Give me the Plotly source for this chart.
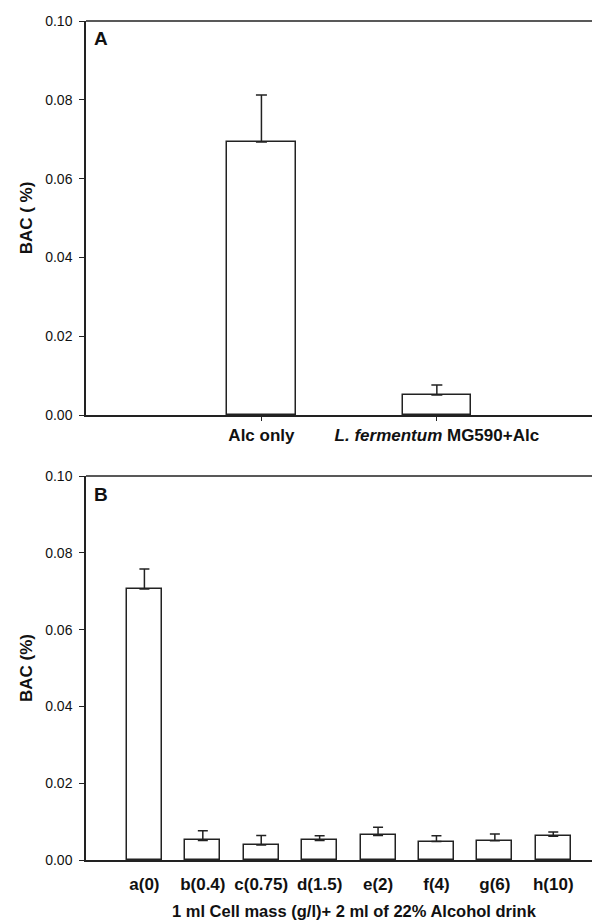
import plotly.graph_objects as go

# ---------------- data ----------------
a_categories = ["Alc only", "<i>L. fermentum</i> MG590+Alc"]
a_bac = [0.0693, 0.0051]
a_err = [0.0119, 0.0025]

b_categories = ["a(0)", "b(0.4)", "c(0.75)", "d(1.5)", "e(2)", "f(4)", "g(6)", "h(10)"]
b_bac = [0.0706, 0.0051, 0.0039, 0.0051, 0.0064, 0.0048, 0.0050, 0.0062]
b_err = [0.0052, 0.0025, 0.0025, 0.0012, 0.0021, 0.0015, 0.0018, 0.0011]

y_ticks = [0.00, 0.02, 0.04, 0.06, 0.08, 0.10]

a_pos = list(range(1, len(a_categories) + 1))
b_pos = list(range(1, len(b_categories) + 1))

FONT = "Liberation Sans, Arial, sans-serif"
OFF = 8                      # page body margin
W, H = 600 - OFF, 922 - OFF  # figure fits the window exactly
LINE = "#222222"

def px(p):  # page pixel x -> paper
    return (p - OFF) / W

def py(p):  # page pixel y -> paper
    return 1 - (p - OFF) / H

fig = go.Figure()

fig.add_trace(go.Bar(
    x=a_pos, y=a_bac, width=0.39,
    marker=dict(color="white", line=dict(color=LINE, width=1.5)),
    error_y=dict(type="data", array=a_err, arrayminus=[0] * len(a_err),
                 symmetric=False, color=LINE, thickness=1.5, width=5.5),
    xaxis="x", yaxis="y", showlegend=False,
))
fig.add_trace(go.Bar(
    x=b_pos, y=b_bac, width=0.6,
    marker=dict(color="white", line=dict(color=LINE, width=1.5)),
    error_y=dict(type="data", array=b_err, arrayminus=[0] * len(b_err),
                 symmetric=False, color=LINE, thickness=1.5, width=5),
    xaxis="x2", yaxis="y2", showlegend=False,
))

x_dom = [px(86), 1.0]
yA_dom = [py(415), py(21)]
yB_dom = [py(860), py(476)]

common_y = dict(
    range=[0, 0.1], tickvals=y_ticks, tickformat=".2f",
    ticks="outside", ticklen=5, tickwidth=1, tickcolor=LINE,
    ticklabelstandoff=4,
    showline=True, linecolor=LINE, linewidth=1.5,
    showgrid=False, zeroline=False, automargin=False,
    tickfont=dict(family=FONT, size=14, color="#111"),
    title_standoff=8,
)

fig.update_layout(
    width=W, height=H,
    margin=dict(l=0, r=0, t=0, b=0, autoexpand=False),
    paper_bgcolor="white", plot_bgcolor="white",
    font=dict(family=FONT, color="#111"),
    xaxis=dict(
        domain=x_dom, anchor="y", range=[0, 2.93],
        tickvals=a_pos, ticktext=a_categories,
        ticks="outside", ticklen=4, tickcolor=LINE,
        showline=True, linecolor=LINE, linewidth=1.5,
        showgrid=False, zeroline=False, automargin=False,
        tickfont=dict(family=FONT, size=17, color="#111", weight="bold"),
    ),
    yaxis=dict(domain=yA_dom, anchor="x",
               title=dict(text="BAC ( %)", font=dict(family=FONT, size=17, weight="bold")),
               **common_y),
    xaxis2=dict(
        domain=x_dom, anchor="y2", range=[0, 8.80],
        tickvals=b_pos, ticktext=b_categories,
        ticks="", ticklabelstandoff=8,
        showline=True, linecolor=LINE, linewidth=1.5,
        showgrid=False, zeroline=False, automargin=False,
        tickfont=dict(family=FONT, size=17, color="#111", weight="bold"),
    ),
    yaxis2=dict(domain=yB_dom, anchor="x2",
                title=dict(text="BAC (%)", font=dict(family=FONT, size=17, weight="bold")),
                **common_y),
    shapes=[
        dict(type="line", xref="x domain", yref="y domain", x0=0, x1=1, y0=1, y1=1,
             line=dict(color=LINE, width=1.5)),
        dict(type="line", xref="x2 domain", yref="y2 domain", x0=0, x1=1, y0=1, y1=1,
             line=dict(color=LINE, width=1.5)),
    ],
    annotations=[
        dict(text="<b>A</b>", x=px(92), y=py(26), xref="paper", yref="paper",
             xanchor="left", yanchor="top", showarrow=False,
             font=dict(family=FONT, size=19, color="#111")),
        dict(text="<b>B</b>", x=px(92), y=py(482), xref="paper", yref="paper",
             xanchor="left", yanchor="top", showarrow=False,
             font=dict(family=FONT, size=19, color="#111")),
        dict(text="<b>1 ml Cell mass (g/l)+ 2 ml of 22% Alcohol drink</b>",
             x=px(354), y=py(911), xref="paper", yref="paper",
             xanchor="center", yanchor="middle", showarrow=False,
             font=dict(family=FONT, size=16.5, color="#111")),
    ],
    bargap=0,
)

fig.write_html("out.html")
